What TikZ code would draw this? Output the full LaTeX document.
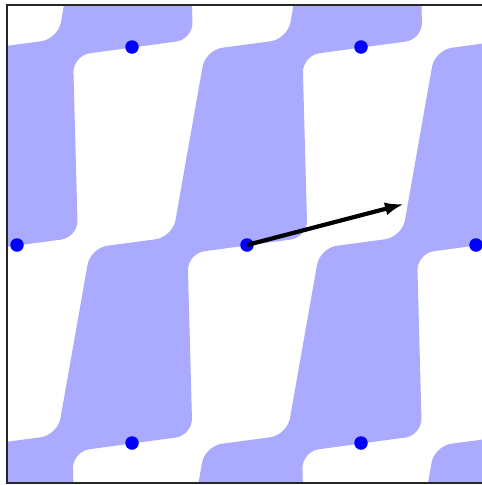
\documentclass[tikz,border=0pt]{standalone}
\usetikzlibrary{arrows.meta}
\definecolor{bandblue}{RGB}{170,170,255}
\begin{document}
\begin{tikzpicture}[x=1pt,y=-1pt,
  lat/.style={circle,fill=blue,draw=none,inner sep=0pt,minimum size=13.5pt},
  band/.style={fill=bandblue,rounded corners=17pt},
  vec/.style={line width=4.2pt,-{Latex[length=19pt,width=13pt]}},
  frameline/.style={line width=1.3pt,draw=black!85}]
\useasboundingbox (0,0) rectangle (482,485);
\begin{scope}
  \clip (7,5) rectangle (482,483);
  \foreach \n in {-2,...,3}{
    \fill[band] ({172.5-115*(-3)+229.5*(\n)},{237+198*(-3)})
      \foreach \k in {-2,...,3}{
        -- ({205.5-115*(\k)+229.5*(\n)},{50+198*(\k)})
        -- ({172.5-115*(\k)+229.5*(\n)},{237+198*(\k)}) }
      \foreach \k in {3,2,...,-2}{
        -- ({307.4-115*(\k)+229.5*(\n)},{237.3+198*(\k)})
        -- ({302.5-115*(\k)+229.5*(\n)},{55.5+198*(\k)}) }
      -- cycle;
  }
  \node[lat] (p1) at (132,47) {};
  \node[lat] (p2) at (361,47) {};
  \node[lat] (p3) at (17,245) {};
  \node[lat] (p4) at (247,245) {};
  \node[lat] (p5) at (476,245) {};
  \node[lat] (p6) at (132,443) {};
  \node[lat] (p7) at (361,443) {};
\end{scope}
\coordinate (tip) at (404,204);
\draw[vec] (p4.center) -- (tip);
\draw[frameline] (486,5) -- (7,5) -- (7,483) -- (486,483);
\end{tikzpicture}
\end{document}
